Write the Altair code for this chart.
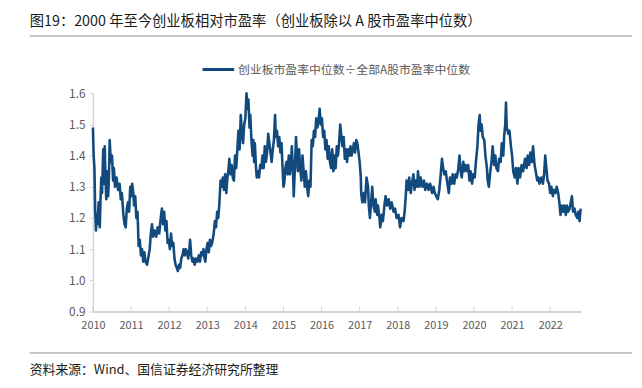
import altair as alt
import pandas as pd

title_text = "图19：2000 年至今创业板相对市盈率（创业板除以 A 股市盈率中位数）"
legend_text = "创业板市盈率中位数÷全部A股市盈率中位数"
source_text = "资料来源：Wind、国信证券经济研究所整理"
series_name = "创业板市盈率中位数÷全部A股市盈率中位数"

year_ticks = list(range(2010, 2023))
y_ticks = [0.9, 1.0, 1.1, 1.2, 1.3, 1.4, 1.5, 1.6]

years = [
    2010.00, 2010.02, 2010.04, 2010.06, 2010.08, 2010.10, 2010.12, 2010.15, 2010.18, 2010.20,
    2010.22, 2010.24, 2010.27, 2010.29, 2010.31, 2010.33, 2010.35, 2010.38, 2010.40, 2010.42,
    2010.44, 2010.47, 2010.50, 2010.53, 2010.55, 2010.58, 2010.62, 2010.66, 2010.70, 2010.73,
    2010.76, 2010.80, 2010.83, 2010.86, 2010.89, 2010.92, 2010.95, 2010.98, 2011.01, 2011.03,
    2011.06, 2011.08, 2011.11, 2011.14, 2011.17, 2011.20, 2011.23, 2011.26, 2011.29, 2011.32,
    2011.35, 2011.38, 2011.42, 2011.45, 2011.49, 2011.52, 2011.55, 2011.58, 2011.62, 2011.66,
    2011.70, 2011.74, 2011.78, 2011.81, 2011.84, 2011.87, 2011.90, 2011.93, 2011.96, 2011.99,
    2012.02, 2012.05, 2012.08, 2012.11, 2012.14, 2012.17, 2012.20, 2012.23, 2012.26, 2012.29,
    2012.32, 2012.35, 2012.38, 2012.41, 2012.44, 2012.47, 2012.50, 2012.53, 2012.55, 2012.58,
    2012.61, 2012.64, 2012.67, 2012.70, 2012.74, 2012.78, 2012.81, 2012.84, 2012.87, 2012.90,
    2012.93, 2012.95, 2012.98, 2013.01, 2013.04, 2013.07, 2013.10, 2013.13, 2013.17, 2013.20,
    2013.23, 2013.26, 2013.29, 2013.32, 2013.35, 2013.38, 2013.41, 2013.44, 2013.47, 2013.50,
    2013.53, 2013.56, 2013.58, 2013.61, 2013.64, 2013.67, 2013.70, 2013.73, 2013.76, 2013.79,
    2013.82, 2013.85, 2013.88, 2013.91, 2013.94, 2013.97, 2014.00, 2014.03, 2014.06, 2014.08,
    2014.11, 2014.13, 2014.16, 2014.19, 2014.21, 2014.23, 2014.25, 2014.28, 2014.30, 2014.33,
    2014.36, 2014.39, 2014.42, 2014.45, 2014.48, 2014.51, 2014.54, 2014.57, 2014.60, 2014.63,
    2014.66, 2014.69, 2014.72, 2014.75, 2014.78, 2014.80, 2014.83, 2014.86, 2014.89, 2014.92,
    2014.95, 2014.97, 2015.00, 2015.02, 2015.05, 2015.08, 2015.11, 2015.14, 2015.17, 2015.20,
    2015.22, 2015.25, 2015.27, 2015.30, 2015.33, 2015.36, 2015.38, 2015.41, 2015.44, 2015.47,
    2015.50, 2015.53, 2015.56, 2015.59, 2015.62, 2015.65, 2015.68, 2015.71, 2015.74, 2015.77,
    2015.80, 2015.83, 2015.86, 2015.89, 2015.92, 2015.95, 2015.98, 2016.01, 2016.04, 2016.07,
    2016.10, 2016.13, 2016.16, 2016.19, 2016.22, 2016.25, 2016.28, 2016.31, 2016.34, 2016.37,
    2016.40, 2016.43, 2016.46, 2016.49, 2016.52, 2016.55, 2016.58, 2016.61, 2016.64, 2016.67,
    2016.70, 2016.73, 2016.76, 2016.79, 2016.82, 2016.85, 2016.88, 2016.91, 2016.94,
    2017.00, 2017.03, 2017.04, 2017.07, 2017.11, 2017.14, 2017.18, 2017.22, 2017.24, 2017.27,
    2017.30, 2017.33, 2017.36, 2017.40, 2017.42, 2017.46, 2017.48, 2017.52, 2017.54, 2017.58,
    2017.61, 2017.65, 2017.68, 2017.72, 2017.76, 2017.80, 2017.84, 2017.89, 2017.93, 2017.97,
    2018.02, 2018.06, 2018.10, 2018.15, 2018.18, 2018.21, 2018.23, 2018.27, 2018.30, 2018.34,
    2018.37, 2018.41, 2018.44, 2018.47, 2018.51, 2018.53, 2018.57, 2018.60, 2018.65, 2018.69,
    2018.72, 2018.77, 2018.81, 2018.85, 2018.90, 2018.94, 2018.97, 2019.01, 2019.05, 2019.09,
    2019.12, 2019.16, 2019.19, 2019.22, 2019.26, 2019.29, 2019.34, 2019.37, 2019.41, 2019.44,
    2019.48, 2019.52, 2019.55, 2019.59, 2019.62, 2019.65, 2019.68, 2019.72, 2019.75, 2019.78,
    2019.82, 2019.85, 2019.88, 2019.91, 2019.95, 2019.98, 2020.02, 2020.05, 2020.09, 2020.12,
    2020.15, 2020.17, 2020.20, 2020.23, 2020.27, 2020.30, 2020.34, 2020.36, 2020.39, 2020.42,
    2020.46, 2020.49, 2020.53, 2020.56, 2020.59, 2020.63, 2020.66, 2020.70, 2020.73, 2020.77,
    2020.79, 2020.82, 2020.84, 2020.86, 2020.90, 2020.93, 2020.97, 2021.00, 2021.03, 2021.07,
    2021.10, 2021.14, 2021.17, 2021.21, 2021.25, 2021.29, 2021.34, 2021.38, 2021.41, 2021.45,
    2021.48, 2021.52, 2021.55, 2021.59, 2021.62, 2021.66, 2021.69, 2021.72, 2021.77, 2021.81,
    2021.84, 2021.87, 2021.90, 2021.93, 2021.97, 2022.00, 2022.03, 2022.07, 2022.10, 2022.14,
    2022.17, 2022.21, 2022.24, 2022.27, 2022.30, 2022.34, 2022.37, 2022.41, 2022.44, 2022.47,
    2022.51, 2022.54, 2022.57, 2022.60, 2022.64, 2022.67, 2022.71, 2022.74, 2022.77, 2022.80,
]

ratio = [
    1.49, 1.40, 1.36, 1.22, 1.16, 1.21, 1.18, 1.25, 1.17, 1.26,
    1.33, 1.28, 1.42, 1.31, 1.43, 1.33, 1.26, 1.35, 1.27, 1.33,
    1.45, 1.38, 1.40, 1.32, 1.36, 1.30, 1.33, 1.29, 1.31, 1.26,
    1.28, 1.21, 1.18, 1.17, 1.23, 1.25, 1.22, 1.30, 1.27, 1.31,
    1.28, 1.24, 1.27, 1.20, 1.22, 1.11, 1.13, 1.08, 1.10, 1.06,
    1.09, 1.06, 1.05, 1.07, 1.10, 1.15, 1.18, 1.14, 1.16, 1.14,
    1.17, 1.15, 1.20, 1.23, 1.18, 1.22, 1.16, 1.19, 1.12, 1.13,
    1.10, 1.15, 1.11, 1.12, 1.07, 1.05, 1.04, 1.03, 1.05, 1.04,
    1.07, 1.08, 1.10, 1.08, 1.10, 1.09, 1.07, 1.10, 1.13, 1.08,
    1.06, 1.07, 1.05, 1.07, 1.06, 1.08, 1.06, 1.09, 1.08, 1.10,
    1.07, 1.06, 1.10, 1.12, 1.09, 1.13, 1.11, 1.12, 1.15, 1.19,
    1.17, 1.22, 1.20, 1.25, 1.32, 1.30, 1.33, 1.29, 1.34, 1.28,
    1.33, 1.36, 1.39, 1.34, 1.37, 1.33, 1.32, 1.40, 1.36, 1.42,
    1.48, 1.42, 1.53, 1.47, 1.44, 1.50, 1.52, 1.60, 1.55, 1.58,
    1.49, 1.53, 1.45, 1.40, 1.45, 1.38, 1.44, 1.36, 1.33, 1.35,
    1.33, 1.37, 1.36, 1.40, 1.36, 1.43, 1.38, 1.41, 1.47, 1.44,
    1.41, 1.38, 1.42, 1.45, 1.53, 1.46, 1.48, 1.43, 1.46, 1.41,
    1.44, 1.38, 1.30, 1.31, 1.36, 1.38, 1.34, 1.40, 1.34, 1.38,
    1.43, 1.35, 1.27, 1.36, 1.46, 1.38, 1.35, 1.42, 1.36, 1.32,
    1.40, 1.35, 1.30, 1.35, 1.30, 1.27, 1.32, 1.30, 1.45, 1.43,
    1.48, 1.46, 1.52, 1.49, 1.51, 1.55, 1.50, 1.52, 1.46, 1.48,
    1.42, 1.45, 1.39, 1.43, 1.38, 1.36, 1.42, 1.35, 1.40, 1.36,
    1.43, 1.40, 1.44, 1.50, 1.46, 1.43, 1.46, 1.39, 1.42, 1.38,
    1.42, 1.40, 1.43, 1.40, 1.42, 1.44, 1.41, 1.45, 1.44,
    1.38, 1.33, 1.28, 1.25, 1.28, 1.25, 1.33, 1.30, 1.24, 1.20,
    1.25, 1.30, 1.24, 1.22, 1.26, 1.21, 1.24, 1.20, 1.17, 1.21,
    1.19, 1.24, 1.27, 1.24, 1.26, 1.23, 1.25, 1.22, 1.23, 1.20,
    1.21, 1.17, 1.20, 1.19, 1.22, 1.27, 1.32, 1.29, 1.33, 1.28,
    1.31, 1.34, 1.29, 1.32, 1.30, 1.35, 1.30, 1.33, 1.30, 1.32,
    1.29, 1.31, 1.29, 1.31, 1.28, 1.30, 1.28, 1.27, 1.26, 1.29,
    1.33, 1.39, 1.36, 1.34, 1.35, 1.32, 1.28, 1.33, 1.31, 1.34,
    1.31, 1.34, 1.33, 1.36, 1.40, 1.35, 1.33, 1.38, 1.35, 1.37,
    1.35, 1.37, 1.32, 1.35, 1.31, 1.34, 1.33, 1.38, 1.43, 1.50,
    1.53, 1.48, 1.50, 1.46, 1.45, 1.40, 1.36, 1.32, 1.30, 1.34,
    1.38, 1.43, 1.37, 1.40, 1.36, 1.35, 1.39, 1.38, 1.44, 1.40,
    1.46, 1.50, 1.57, 1.49, 1.47, 1.48, 1.43, 1.40, 1.35, 1.33,
    1.36, 1.31, 1.36, 1.33, 1.37, 1.35, 1.39, 1.36, 1.40, 1.37,
    1.41, 1.38, 1.43, 1.37, 1.35, 1.32, 1.33, 1.31, 1.33, 1.31,
    1.34, 1.40, 1.36, 1.32, 1.31, 1.28, 1.30, 1.27, 1.29, 1.28,
    1.30, 1.28, 1.25, 1.21, 1.24, 1.22, 1.24, 1.21, 1.24, 1.22,
    1.23, 1.25, 1.27, 1.22, 1.23, 1.21, 1.20, 1.22, 1.19, 1.23,
]

df = pd.DataFrame({"year": years, "ratio": ratio, "series": series_name})
ticks_df = pd.DataFrame({"year": year_ticks})

W, H = 494, 221
LINE_COLOR = "#124a7d"
AXIS_GRAY = "#d4d4d4"
LABEL_GRAY = "#595959"
FONT = "Noto Sans CJK SC"

x_scale = alt.Scale(domain=[2010, 2022.8], nice=False, zero=False)
y_scale = alt.Scale(domain=[0.9, 1.6], nice=False, zero=False)

line = alt.Chart(df).mark_line(color=LINE_COLOR, strokeWidth=2.6, strokeJoin="round").encode(
    x=alt.X("year:Q", scale=x_scale,
            axis=alt.Axis(values=year_ticks, format="d", title=None, grid=False,
                          tickSize=0, labelPadding=8, labelColor=LABEL_GRAY,
                          labelFontSize=11, labelFont=FONT, labelOverlap=False,
                          labelFlush=False, domainColor=AXIS_GRAY, domainWidth=2)),
    y=alt.Y("ratio:Q", scale=y_scale,
            axis=alt.Axis(values=y_ticks, format=".1f", title=None, grid=False,
                          tickSize=4, tickColor=AXIS_GRAY, labelPadding=4,
                          labelColor=LABEL_GRAY, labelFontSize=12, labelFont=FONT,
                          labelOverlap=False, labelFlush=False,
                          domainColor=AXIS_GRAY, domainWidth=1.5)),
)

xticks = alt.Chart(ticks_df).mark_rule(color=AXIS_GRAY, strokeWidth=1).encode(
    x=alt.X("year:Q", scale=x_scale),
    y=alt.value(H - 5),
    y2=alt.value(H),
)

one = pd.DataFrame({"k": [0]})

title = alt.Chart(one).mark_text(
    text=title_text, align="left", baseline="middle", fontSize=14.5, font=FONT, color="#1a1a1a"
).encode(x=alt.value(-64), y=alt.value(-72))

top_rule = alt.Chart(one).mark_rule(color="#8c8c8c", strokeWidth=1).encode(
    x=alt.value(-64), x2=alt.value(546), y=alt.value(-58)
)

legend_line = alt.Chart(one).mark_rule(color=LINE_COLOR, strokeWidth=3).encode(
    x=alt.value(111), x2=alt.value(143), y=alt.value(-24)
)
legend_label = alt.Chart(one).mark_text(
    text=legend_text, align="left", baseline="middle", fontSize=12, font=FONT, color=LABEL_GRAY
).encode(x=alt.value(147), y=alt.value(-24))

bottom_rule = alt.Chart(one).mark_rule(color="#8c8c8c", strokeWidth=1).encode(
    x=alt.value(-64), x2=alt.value(546), y=alt.value(263)
)
source = alt.Chart(one).mark_text(
    text=source_text, align="left", baseline="middle", fontSize=13, font=FONT, color="#1a1a1a"
).encode(x=alt.value(-64), y=alt.value(280))

chart = alt.layer(
    line, xticks, title, top_rule, legend_line, legend_label, bottom_rule, source
).properties(
    width=W, height=H,
    padding={"left": 86, "top": 84, "right": 54, "bottom": 67},
    autosize=alt.AutoSizeParams(type="none"),
    background="white",
).configure_view(stroke=None)

chart.save("out.html", embed_options={"renderer": "svg", "actions": False})
